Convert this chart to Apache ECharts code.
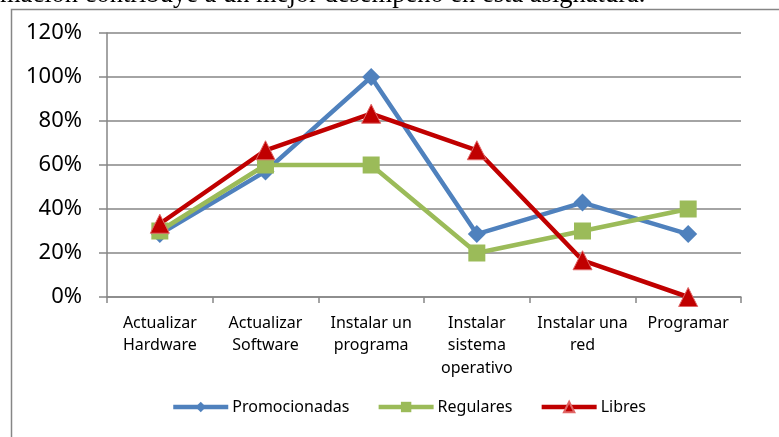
<!DOCTYPE html>
<html>
<head>
<meta charset="utf-8">
<script src="https://cdn.jsdelivr.net/npm/echarts@6/dist/echarts.min.js"></script>
<style>
  html, body { margin: 0; padding: 0; background: #fff; }
  #chart { width: 779px; height: 437px; }
</style>
</head>
<body>
<div id="chart"></div>
<script>
// categorias del eje x
const categorias = [
  "Actualizar\nHardware",
  "Actualizar\nSoftware",
  "Instalar un\nprograma",
  "Instalar\nsistema\noperativo",
  "Instalar una\nred",
  "Programar",
];

// porcentajes por grupo
const promocionadas = [28.6, 57.1, 100, 28.6, 42.9, 28.6];
const regulares = [30, 60, 60, 20, 30, 40];
const libres = [33.3, 66.7, 83.3, 66.7, 16.7, 0];

const yTicks = [0, 20, 40, 60, 80, 100, 120];

const fontUI = "'Noto Sans', sans-serif";
const gris = "#868686";

const chart = echarts.init(document.getElementById("chart"), null, { renderer: "canvas" });

const serie = (name, data, color, symbol, size, border) => ({
  name,
  type: "line",
  data,
  symbol,
  symbolSize: size,
  showSymbol: true,
  lineStyle: { color, width: 4.5 },
  itemStyle: { color, borderColor: border, borderWidth: border ? 1 : 0 },
  emphasis: { disabled: true },
  animation: false,
});

const option = {
  backgroundColor: "#fff",
  animation: false,
  textStyle: { fontFamily: fontUI },
  graphic: [
    {
      type: "text",
      left: 0,
      top: -18,
      silent: true,
      style: {
        text: "mación contribuye a un mejor desempeño en esta asignatura.",
        font: "26.5px 'Liberation Serif', serif",
        fill: "#000",
      },
    },
    {
      type: "polyline",
      silent: true,
      shape: { points: [[11.5, 437], [11.5, 9.5], [779, 9.5]] },
      style: { stroke: gris, lineWidth: 1.5, fill: null },
    },
  ],
  legend: {
    bottom: 17,
    left: 166,
    itemWidth: 55,
    itemHeight: 13,
    itemGap: 27,
    lineStyle: { width: 4.5 },
    textStyle: { fontSize: 16, color: "#000", fontFamily: fontUI, padding: [0, 0, 0, -1] },
    data: ["Promocionadas", "Regulares", "Libres"],
  },
  grid: { left: 107, right: 38, top: 33, bottom: 140, containLabel: false },
  xAxis: {
    type: "category",
    data: categorias,
    boundaryGap: true,
    axisLine: { lineStyle: { color: gris, width: 1.5 } },
    axisTick: { show: true, length: 6, inside: false, lineStyle: { color: gris, width: 1.5 } },
    axisLabel: {
      color: "#000",
      fontSize: 16,
      lineHeight: 22.5,
      margin: 15,
      interval: 0,
      fontFamily: fontUI,
    },
    splitLine: { show: false },
  },
  yAxis: {
    type: "value",
    min: 0,
    max: 120,
    interval: 20,
    axisLine: { show: true, lineStyle: { color: gris, width: 1.5 } },
    axisTick: { show: true, length: 8, lineStyle: { color: gris, width: 1.5 } },
    axisLabel: {
      color: "#000",
      fontSize: 22,
      margin: 25,
      fontFamily: fontUI,
      formatter: (v) => (yTicks.includes(v) ? v + "%" : ""),
    },
    splitLine: { show: true, lineStyle: { color: gris, width: 1.5 } },
  },
  series: [
    serie("Promocionadas", promocionadas, "#4F81BD", "diamond", 18),
    serie("Regulares", regulares, "#9BBB59", "rect", 17),
    serie("Libres", libres, "#C00000", "triangle", 19, "#E06666"),
  ],
};

chart.setOption(option);
</script>
</body>
</html>
